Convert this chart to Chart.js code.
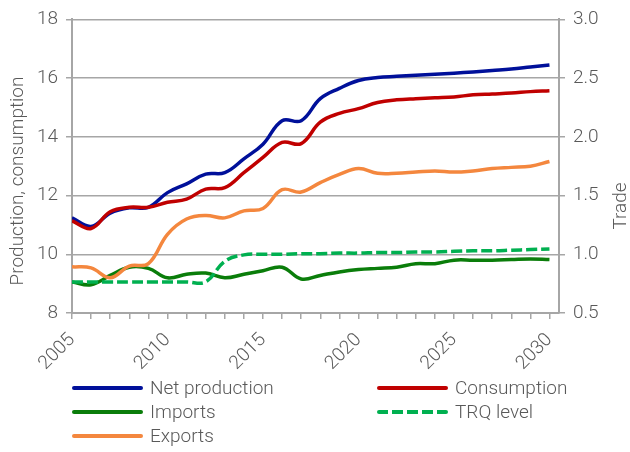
<!DOCTYPE html>
<html>
<head>
<meta charset="utf-8">
<script src="https://cdn.jsdelivr.net/npm/chart.js@4"></script>
<style>
  body { margin: 0; background: #fff; }
  #wrap { position: relative; width: 630px; height: 452px; }
  #legend { position: absolute; left: 0; top: 0; width: 630px; height: 452px; pointer-events: none;
    font-family: Roboto, 'DejaVu Sans Condensed', sans-serif; font-weight: 300; font-size: 19px; color: #595959; }
  .item { position: absolute; height: 24px; line-height: 24px; white-space: nowrap; }
  .item .sw { position: absolute; left: 0; top: 10px; width: 71px; height: 0; border-top: 4px solid; border-radius: 2px; }
  .item .tx { position: absolute; left: 78px; top: 0px; }
</style>
</head>
<body>
<div id="wrap">
  <canvas id="chart" width="630" height="452"></canvas>
  <div id="legend"></div>
</div>
<script>
const years = [2005, 2006, 2007, 2008, 2009, 2010, 2011, 2012, 2013, 2014, 2015, 2016, 2017,
  2018, 2019, 2020, 2021, 2022, 2023, 2024, 2025, 2026, 2027, 2028, 2029, 2030];
const netProduction = [11.24, 10.95, 11.4, 11.58, 11.6, 12.1, 12.4, 12.73, 12.78, 13.25, 13.75, 14.55, 14.55,
  15.3, 15.65, 15.92, 16.02, 16.06, 16.1, 16.13, 16.17, 16.21, 16.26, 16.31, 16.38, 16.45];
const consumption = [11.14, 10.88, 11.45, 11.6, 11.6, 11.77, 11.88, 12.22, 12.27, 12.78, 13.3, 13.81, 13.77,
  14.5, 14.8, 14.96, 15.17, 15.26, 15.3, 15.33, 15.36, 15.43, 15.46, 15.49, 15.54, 15.57];
const imports = [0.765, 0.74, 0.82, 0.89, 0.88, 0.80, 0.83, 0.84, 0.80, 0.83, 0.86, 0.89, 0.79,
  0.82, 0.85, 0.87, 0.88, 0.89, 0.92, 0.92, 0.95, 0.95, 0.95, 0.955, 0.96, 0.955];
const trqLevel = [0.765, 0.765, 0.765, 0.765, 0.765, 0.765, 0.765, 0.765, 0.94, 0.995, 1.0, 1.0, 1.005,
  1.005, 1.01, 1.01, 1.015, 1.015, 1.02, 1.02, 1.025, 1.03, 1.03, 1.035, 1.04, 1.045];
const exportsTrade = [0.893, 0.884, 0.80, 0.90, 0.92, 1.17, 1.30, 1.33, 1.31, 1.37, 1.39, 1.55, 1.53,
  1.61, 1.68, 1.73, 1.69, 1.69, 1.70, 1.71, 1.70, 1.71, 1.73, 1.74, 1.75, 1.79];

const grey = '#595959';
const gridGrey = '#a6a6a6';
const fontFamily = "Roboto, 'DejaVu Sans Condensed', sans-serif";
const tickFont = { family: fontFamily, size: 19, weight: '300' };

function pts(values) {
  return values.map((v, i) => ({ x: years[i], y: v }));
}

const series = [
  { label: 'Net production', data: netProduction, color: '#00109a', axis: 'y', dash: [] },
  { label: 'Consumption', data: consumption, color: '#c00000', axis: 'y', dash: [] },
  { label: 'Imports', data: imports, color: '#0a7d0a', axis: 'y1', dash: [] },
  { label: 'TRQ level', data: trqLevel, color: '#00b050', axis: 'y1', dash: [11, 4] },
  { label: 'Exports', data: exportsTrade, color: '#f4873e', axis: 'y1', dash: [] }
];

// draw order: trade lines behind the production lines
const drawOrder = [4, 3, 2, 1, 0];

// axis titles, both reading bottom-to-top
const axisTitles = {
  id: 'axisTitles',
  afterDraw(chart) {
    const c = chart.ctx;
    const put = (text, x, y) => {
      c.save();
      c.translate(x, y);
      c.rotate(-Math.PI / 2);
      c.fillStyle = grey;
      c.font = '300 19px ' + fontFamily;
      c.textAlign = 'center';
      c.textBaseline = 'middle';
      c.fillText(text, 0, 0);
      c.restore();
    };
    put('Production, consumption', 18, 181);
    put('Trade', 621, 206);
  }
};

const ctx = document.getElementById('chart').getContext('2d');
new Chart(ctx, {
  type: 'line',
  data: {
    datasets: drawOrder.map(i => {
      const s = series[i];
      return {
        label: s.label,
        data: pts(s.data),
        yAxisID: s.axis,
        borderColor: s.color,
        backgroundColor: s.color,
        borderWidth: 3.5,
        borderDash: s.dash,
        pointRadius: 0,
        tension: 0.4,
        fill: false
      };
    })
  },
  plugins: [axisTitles],
  options: {
    responsive: false,
    animation: false,
    layout: { padding: { top: 9, bottom: 72, left: 0, right: 0 } },
    plugins: { legend: { display: false }, tooltip: { enabled: false } },
    scales: {
      x: {
        type: 'linear',
        min: 2005,
        max: 2030.5,
        afterFit: s => { s.height = 67; },
        ticks: {
          stepSize: 1,
          includeBounds: false,
          autoSkip: false,
          minRotation: 45,
          maxRotation: 45,
          padding: 10,
          color: grey,
          font: tickFont,
          callback: v => (v % 5 === 0 ? String(v) : '')
        },
        grid: { drawOnChartArea: false, drawTicks: true, tickLength: 6, color: gridGrey, lineWidth: 1.5 },
        border: { color: gridGrey, width: 2 }
      },
      y: {
        position: 'left',
        min: 8,
        max: 18,
        afterFit: s => { s.width = 72; },
        ticks: { stepSize: 2, color: grey, font: tickFont, padding: 8 },
        grid: { color: gridGrey, lineWidth: 1.5, tickLength: 6 },
        border: { color: gridGrey, width: 2 }
      },
      y1: {
        position: 'right',
        min: 0.5,
        max: 3,
        afterFit: s => { s.width = 71; },
        ticks: { stepSize: 0.5, color: grey, font: tickFont, padding: 8,
          callback: v => v.toFixed(1) },
        grid: { drawOnChartArea: false, color: gridGrey, lineWidth: 1.5, tickLength: 6 },
        border: { color: gridGrey, width: 2 }
      }
    }
  }
});

// legend laid out in two columns like the original
const legendPos = [
  { x: 72, y: 376 }, { x: 377, y: 376 },
  { x: 72, y: 400 }, { x: 377, y: 400 },
  { x: 72, y: 424 }
];
const legend = document.getElementById('legend');
series.forEach((s, i) => {
  const it = document.createElement('div');
  it.className = 'item';
  it.style.left = legendPos[i].x + 'px';
  it.style.top = legendPos[i].y + 'px';
  const sw = document.createElement('span');
  sw.className = 'sw';
  sw.style.borderTopColor = s.color;
  if (s.dash.length) {
    sw.style.borderTop = 'none';
    sw.style.height = '4px';
    sw.style.background = `repeating-linear-gradient(90deg, ${s.color} 0 11px, transparent 11px 15px)`;
  }
  const tx = document.createElement('span');
  tx.className = 'tx';
  tx.textContent = s.label;
  it.appendChild(sw);
  it.appendChild(tx);
  legend.appendChild(it);
});
</script>
</body>
</html>
